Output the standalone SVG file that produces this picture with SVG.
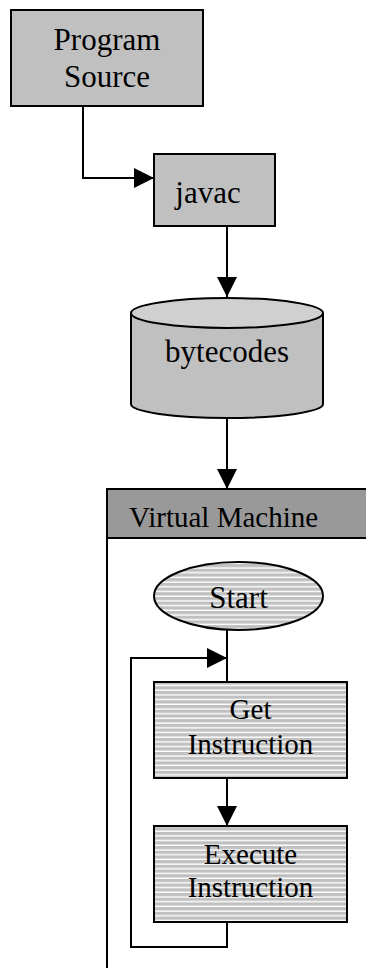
<svg xmlns="http://www.w3.org/2000/svg" width="366" height="968" viewBox="0 0 366 968">
  <style>
    .box { fill: #c0c0c0; stroke: #000; stroke-width: 2; }
    .striped { fill: url(#stripes); stroke: #000; stroke-width: 2; }
    .lbl { font-family: "Liberation Serif", "Times New Roman", serif; font-size: 31px; fill: #000; }
    .lbl-sm { font-family: "Liberation Serif", "Times New Roman", serif; font-size: 29px; fill: #000; }
    .wire { fill: none; stroke: #000; stroke-width: 2; }
  </style>
  <defs>
    <pattern id="stripes" patternUnits="userSpaceOnUse" width="8" height="4.7">
      <rect width="8" height="4.7" fill="#c0c0c0"/>
      <rect y="3.3" width="8" height="1.4" fill="#ffffff"/>
    </pattern>
    <marker id="arrow" markerUnits="userSpaceOnUse" markerWidth="20" markerHeight="20" refX="20" refY="10" orient="auto">
      <path d="M0,0 L20,10 L0,20 Z" fill="#000"/>
    </marker>
  </defs>

  <!-- Virtual Machine container -->
  <g id="vm">
    <rect x="107" y="489" width="270" height="49" fill="#999999" stroke="#000" stroke-width="2"/>
    <line x1="107" y1="538" x2="107" y2="970" stroke="#000" stroke-width="2"/>
    <text class="lbl-sm" x="129" y="527">Virtual Machine</text>
  </g>

  <g id="program-source">
    <rect class="box" x="11" y="10" width="192" height="96"/>
    <text class="lbl" x="107" y="50" text-anchor="middle">Program</text>
    <text class="lbl" x="107" y="87" text-anchor="middle">Source</text>
  </g>

  <g id="javac">
    <rect class="box" x="154" y="154" width="121" height="72"/>
    <text class="lbl" x="208" y="203" text-anchor="middle">javac</text>
  </g>

  <g id="bytecodes">
    <path d="M131,313 L131,404 A96,14 0 0 0 323,404 L323,313" fill="#c0c0c0" stroke="#000" stroke-width="2"/>
    <ellipse cx="227" cy="313" rx="96" ry="15" fill="#d0d0d0" stroke="#000" stroke-width="2"/>
    <text class="lbl" x="227" y="362" text-anchor="middle">bytecodes</text>
  </g>

  <g id="start">
    <ellipse class="striped" cx="238.5" cy="596" rx="84.5" ry="34"/>
    <text class="lbl" x="238.5" y="608" text-anchor="middle">Start</text>
  </g>

  <g id="get-instruction">
    <rect class="striped" x="154" y="682" width="193" height="96"/>
    <text class="lbl-sm" x="250.5" y="719" text-anchor="middle">Get</text>
    <text class="lbl-sm" x="250.5" y="754" text-anchor="middle">Instruction</text>
  </g>

  <g id="execute-instruction">
    <rect class="striped" x="154" y="826" width="193" height="96"/>
    <text class="lbl-sm" x="250.5" y="864" text-anchor="middle">Execute</text>
    <text class="lbl-sm" x="250.5" y="897" text-anchor="middle">Instruction</text>
  </g>

  <g id="connectors">
    <path class="wire" d="M83,106 L83,178 L154,178" marker-end="url(#arrow)"/>
    <path class="wire" d="M227,226 L227,297" marker-end="url(#arrow)"/>
    <path class="wire" d="M227,418 L227,489" marker-end="url(#arrow)"/>
    <path class="wire" d="M227,630 L227,682"/>
    <path class="wire" d="M227,778 L227,826" marker-end="url(#arrow)"/>
    <path class="wire" d="M227,922 L227,947 L131,947 L131,658 L227,658" marker-end="url(#arrow)"/>
  </g>
</svg>
